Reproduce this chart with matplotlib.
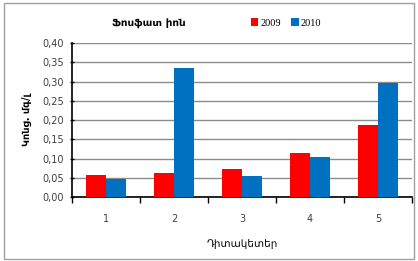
import numpy as np
import matplotlib.pyplot as plt
from matplotlib.patches import Rectangle

stations = ['1', '2', '3', '4', '5']
vals_2009 = [0.056, 0.062, 0.072, 0.115, 0.187]
vals_2010 = [0.046, 0.336, 0.055, 0.103, 0.295]
yticks = [0.0, 0.05, 0.10, 0.15, 0.20, 0.25, 0.30, 0.35, 0.40]

plt.rcParams['font.family'] = ['DejaVu Sans']

fig = plt.figure(figsize=(4.18, 2.61), dpi=100)
ax = fig.add_axes([72 / 418, 1 - 197 / 261, 340 / 418, 154 / 261])

x = np.arange(len(stations))
w = 0.29
ax.bar(x - w / 2, vals_2009, w, color='#ff0000', label='2009', zorder=3)
ax.bar(x + w / 2, vals_2010, w, color='#0070c0', label='2010', zorder=3)

ax.set_xlim(-0.5, len(stations) - 0.5)
ax.set_ylim(0, 0.40)
ax.set_yticks(yticks)
ax.set_yticklabels([f'{v:.2f}'.replace('.', ',') for v in yticks],
                   fontsize=7, color='#404040')
ax.set_xticks(x)
ax.set_xticklabels(stations, fontsize=7, color='#404040')
ax.set_xticks(np.arange(-0.5, len(stations)), minor=True)
ax.tick_params(axis='x', which='major', length=0, pad=12)
ax.tick_params(axis='x', which='minor', length=4, width=1, direction='out')
ax.tick_params(axis='y', length=3, width=1, direction='inout', pad=4)
ax.grid(axis='y', color='#8c8c8c', linewidth=1, zorder=0)
for side in ['top', 'right']:
    ax.spines[side].set_visible(False)
ax.spines['left'].set_linewidth(1.2)
ax.spines['bottom'].set_linewidth(1.2)

ax.set_ylabel('Կոնց. մգ/լ', fontsize=7, fontweight='bold', labelpad=8)
ax.set_xlabel('Դիտակետեր', fontsize=7.5, labelpad=11)

fig.text(149 / 418, 1 - 23 / 261, 'Ֆոսֆատ իոն', fontsize=7.5, fontweight='bold',
         ha='center', va='center')
fig.legend(loc='center', bbox_to_anchor=(286 / 418, 1 - 23 / 261), ncol=2,
           frameon=False, handlelength=0.7, handleheight=0.7,
           handletextpad=0.2, columnspacing=1.0,
           prop={'family': 'Liberation Serif', 'size': 7.5})

fig.patches.append(Rectangle((4 / 418, 2 / 261), 410 / 418, 256 / 261,
                             transform=fig.transFigure, fill=False,
                             edgecolor='#a0a0a0', linewidth=1))

fig.savefig('out.png', dpi=100)
